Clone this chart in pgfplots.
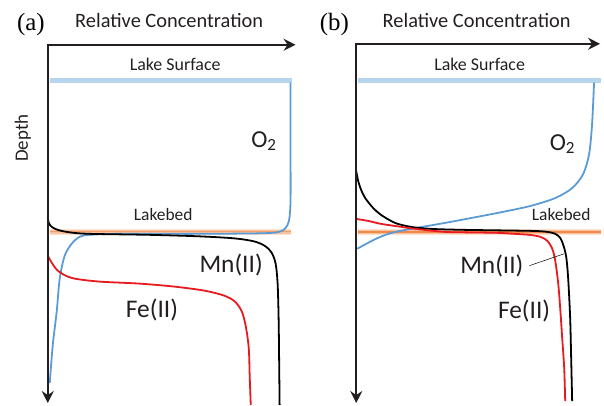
\documentclass[border=0pt]{standalone}
\usepackage{pgfplots}
\pgfplotsset{compat=1.18}
\usepackage{fontspec}
\setmainfont{Carlito}
\newfontfamily\serifpanel{Liberation Serif}
\usetikzlibrary{arrows.meta}
\definecolor{oxy}{HTML}{5B9BD5}
\definecolor{fer}{HTML}{E8191F}
\definecolor{axc}{HTML}{231F20}
\definecolor{lakesurf}{HTML}{B8D5EE}
\definecolor{bedlight}{HTML}{FDE2CF}
\definecolor{bedmid}{HTML}{F8C39E}
\definecolor{beddark}{HTML}{EF8A48}
\newcommand{\fs}[1]{\fontsize{#1}{#1}\selectfont}
\begin{document}
\begin{tikzpicture}
\begin{axis}[
  scale only axis, width=604pt, height=407pt,
  xmin=0, xmax=604, ymin=-407, ymax=0,
  hide axis, clip=false,
]
% bounding
\addplot[draw=none] coordinates {(0,0) (604,-407)};
% lake surface
\addplot[color=lakesurf, line width=4.5pt] coordinates {(50,-81) (293,-81)};
\addplot[color=lakesurf, line width=4.5pt] coordinates {(360,-81) (604,-81)};
% lakebed
\addplot[color=bedlight, line width=6pt] coordinates {(50,-233) (292,-233)};
\addplot[color=bedmid, line width=3.5pt] coordinates {(50,-233) (292,-233)};
\addplot[color=beddark!60!bedmid, line width=1.2pt] coordinates {(50,-233) (292,-233)};
\addplot[color=bedlight, line width=6pt] coordinates {(360,-233) (604,-233)};
\addplot[color=bedmid, line width=3.5pt] coordinates {(360,-233) (604,-233)};
\addplot[color=beddark, line width=1.4pt] coordinates {(360,-233) (604,-233)};
% ---- panel a curves
\addplot[oxy, line width=1.8pt, smooth, tension=0.5] coordinates {
(292,-83) (292,-150) (292,-200) (291,-218) (289,-226) (285,-231) (278,-233.5) (260,-234.5) (200,-235) (120,-235) (90,-236) (80,-238) (72,-245) (65,-257) (60,-280) (57,-313) (53,-347) (50,-385)};
\addplot[black, line width=1.8pt, smooth, tension=0.5] coordinates {
(48,-218) (49,-224) (52,-228) (58,-231) (70,-233.5) (90,-235) (150,-236) (200,-237.5) (235,-239.5) (255,-242.5) (266,-247) (273,-254) (277,-265) (279,-285) (280,-320) (280.5,-360) (281,-407)};
\addplot[fer, line width=1.8pt, smooth, tension=0.5] coordinates {
(48,-257) (52,-264) (57,-271) (64,-276) (75,-280) (100,-283) (140,-285) (175,-288) (205,-292) (225,-297) (236,-303) (243,-313) (247,-328) (250,-350) (251,-380) (252,-407)};
% ---- panel b curves
\addplot[oxy, line width=1.8pt, smooth, tension=0.5] coordinates {
(597,-83) (595,-125) (592,-155) (586,-175) (575,-189) (558,-199) (533,-207) (500,-214) (450,-223.5) (400,-232.5) (380,-239) (359,-250)};
\addplot[black, line width=1.8pt, smooth, tension=0.5] coordinates {
(358,-172) (360,-182) (363,-191) (367,-199) (375,-209) (383,-216) (397,-224) (413,-228) (433,-230) (467,-231) (533,-232) (550,-233) (558,-235) (563,-239) (566,-246) (569,-258) (571,-280) (573,-320) (574,-360) (575,-403)};
\addplot[fer, line width=1.8pt, smooth, tension=0.5] coordinates {
(358,-220) (370,-222) (383,-225) (400,-227.5) (417,-230) (447,-233) (467,-233.5) (500,-234) (517,-235) (532,-236) (543,-238) (550,-242) (555,-250) (558,-262) (561,-285) (563,-310) (565,-340) (567,-370) (568,-403)};
% Mn leader
\addplot[black, line width=0.5pt] coordinates {(532,-267) (567,-255)};
% axes arrows
\addplot[axc, line width=2pt, -{Stealth[length=12pt,width=12pt,inset=4pt]}] coordinates {(48,-45) (297,-45)};
\addplot[axc, line width=2pt, -{Stealth[length=12pt,width=12pt,inset=4pt]}] coordinates {(48,-44) (48,-405)};
\addplot[axc, line width=2pt, -{Stealth[length=12pt,width=12pt,inset=4pt]}] coordinates {(358,-44) (603,-44)};
\addplot[axc, line width=2pt, -{Stealth[length=12pt,width=12pt,inset=4pt]}] coordinates {(358,-43) (358,-405)};
% texts
\node[anchor=base, font=\serifpanel\fs{25}] at (axis cs:31,-31) {(a)};
\node[anchor=base, font=\serifpanel\fs{25}] at (axis cs:336,-31) {(b)};
\node[anchor=base, font=\fs{20.5}, text=axc] at (axis cs:170,-28) {Relative Concentration};
\node[anchor=base, font=\fs{20.5}, text=axc] at (axis cs:479,-28) {Relative Concentration};
\node[anchor=base, font=\fs{18}, text=axc] at (axis cs:176,-71) {Lake Surface};
\node[anchor=base, font=\fs{18}, text=axc] at (axis cs:482,-71) {Lake Surface};
\node[anchor=base, font=\fs{17.5}, text=axc] at (axis cs:164,-222) {Lakebed};
\node[anchor=base, font=\fs{17.5}, text=axc] at (axis cs:564,-222) {Lakebed};
\node[anchor=base, rotate=90, font=\fs{19}, text=axc] at (axis cs:28,-139) {Depth};
\node[anchor=base west, font=\fs{24.5}, text=axc] at (axis cs:249,-148) {O\textsubscript{2}};
\node[anchor=base west, font=\fs{24.5}, text=axc] at (axis cs:549,-151) {O\textsubscript{2}};
\node[anchor=base west, font=\fs{25.5}, text=axc] at (axis cs:197,-274) {Mn(II)};
\node[anchor=base west, font=\fs{25.5}, text=axc] at (axis cs:123,-319) {Fe(II)};
\node[anchor=base west, font=\fs{25.5}, text=axc] at (axis cs:459,-275) {Mn(II)};
\node[anchor=base west, font=\fs{25.5}, text=axc] at (axis cs:497,-320) {Fe(II)};
\end{axis}
\end{tikzpicture}
\end{document}
